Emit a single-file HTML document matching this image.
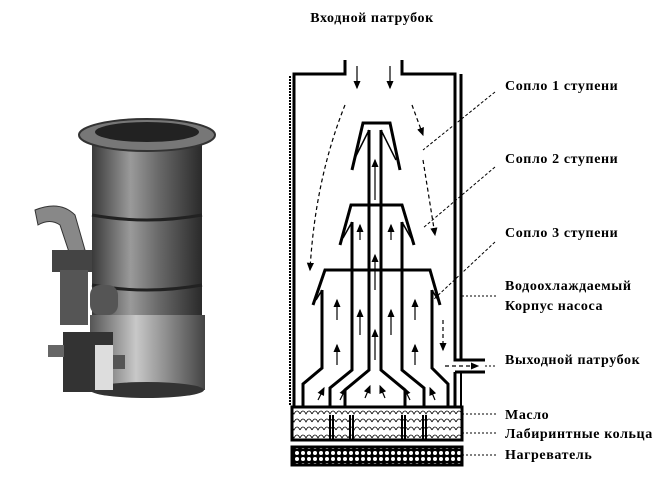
<!DOCTYPE html>
<html><head><meta charset="utf-8"><style>
html,body{margin:0;padding:0;background:#fff;}
svg{display:block}
text{font-family:"Liberation Serif",serif;font-weight:bold;font-size:14px;letter-spacing:0.6px;fill:#000}
</style></head><body>
<svg width="666" height="478" viewBox="0 0 666 478" xmlns="http://www.w3.org/2000/svg">
<defs>
<linearGradient id="cyl" x1="0" x2="1">
<stop offset="0" stop-color="#3a3a3a"/><stop offset="0.35" stop-color="#9a9a9a"/><stop offset="0.6" stop-color="#6a6a6a"/><stop offset="1" stop-color="#2a2a2a"/></linearGradient>
<linearGradient id="base" x1="0" x2="1">
<stop offset="0" stop-color="#555"/><stop offset="0.4" stop-color="#c8c8c8"/><stop offset="1" stop-color="#444"/></linearGradient>
<pattern id="wave" width="12" height="8" patternUnits="userSpaceOnUse">
<path d="M0 6 Q3 0 6 6 Q9 0 12 6" fill="none" stroke="#000" stroke-width="0.8"/></pattern>
<pattern id="heat" width="6" height="6" patternUnits="userSpaceOnUse">
<rect width="6" height="6" fill="#000"/><circle cx="3" cy="3" r="2" fill="#fff"/></pattern>
<marker id="ar" markerWidth="8" markerHeight="8" refX="6" refY="4" orient="auto"><path d="M0 1 L7 4 L0 7 Z" fill="#000"/></marker>
</defs>

<!-- photo -->
<g>
<rect x="92" y="135" width="110" height="195" fill="url(#cyl)"/>
<rect x="90" y="315" width="115" height="75" fill="url(#base)"/>
<ellipse cx="147" cy="390" rx="57" ry="8" fill="#333"/>
<ellipse cx="147" cy="135" rx="68" ry="16" fill="#777" stroke="#333" stroke-width="2"/>
<ellipse cx="147" cy="132" rx="52" ry="10" fill="#222"/>
<path d="M92 215 Q147 225 202 215" stroke="#222" stroke-width="3" fill="none"/>
<path d="M92 285 Q147 295 202 285" stroke="#222" stroke-width="3" fill="none"/>
<path d="M35 210 Q60 200 75 215 L85 250 L70 255 L60 225 Q50 218 38 225 Z" fill="#888" stroke="#333"/>
<rect x="52" y="250" width="40" height="22" fill="#444"/>
<rect x="60" y="270" width="28" height="55" fill="#555"/>
<rect x="90" y="285" width="28" height="30" rx="10" fill="#555"/>
<rect x="63" y="332" width="50" height="60" fill="#333"/>
<rect x="95" y="345" width="18" height="45" fill="#ddd"/>
<rect x="48" y="345" width="16" height="12" fill="#666"/>
<rect x="113" y="355" width="12" height="14" fill="#555"/>
</g>

<!-- title -->
<text x="372" y="22" text-anchor="middle">Входной патрубок</text>

<!-- body walls -->
<g fill="none" stroke="#000">
<path d="M345 60 V74 H294 V406" stroke-width="3"/>
<path d="M402 60 V74 H455 V360 H485" stroke-width="3"/>
<path d="M461 74 V360" stroke-width="3"/>
<path d="M290 76 V406" stroke-width="2" stroke-dasharray="2 1"/>
<path d="M455 372 H485 M455 372 V406" stroke-width="3"/>
<path d="M461 372 V406" stroke-width="2"/>
</g>

<g stroke="#000" stroke-width="1.2" marker-end="url(#ar)">
<line x1="357" y1="66" x2="357" y2="88"/>
<line x1="390" y1="66" x2="390" y2="88"/>
</g>

<g fill="none" stroke="#000" stroke-width="3">
<path d="M369 130 V370 L345 390 V406"/>
<path d="M381 130 V370 L405 390 V406"/>
<path d="M352 170 L363 123 H390 L400 170"/>
<path d="M369 130 L354 160 M381 130 L396 160" stroke-width="1.5"/>
<path d="M352 222 V370 L330 388 V406"/>
<path d="M402 222 V370 L424 388 V406"/>
<path d="M340 245 L351 205 H402 L414 245"/>
<path d="M352 222 L343 238 M402 222 L411 238" stroke-width="1.5"/>
<path d="M322 290 V368 L303 384 V406"/>
<path d="M432 290 V368 L448 384 V406"/>
<path d="M313 305 L325 270 H430 L440 305"/>
<path d="M322 290 L316 300 M432 290 L438 300" stroke-width="1.5"/>
</g>

<g stroke="#000" stroke-width="1.2" marker-end="url(#ar)">
<line x1="375" y1="200" x2="375" y2="160"/><line x1="375" y1="290" x2="375" y2="255"/><line x1="375" y1="360" x2="375" y2="330"/>
<line x1="360" y1="240" x2="360" y2="225"/><line x1="391" y1="240" x2="391" y2="225"/>
<line x1="360" y1="335" x2="360" y2="310"/><line x1="391" y1="335" x2="391" y2="310"/>
<line x1="337" y1="320" x2="337" y2="300"/><line x1="337" y1="365" x2="337" y2="345"/>
<line x1="415" y1="320" x2="415" y2="300"/><line x1="415" y1="365" x2="415" y2="345"/>
<line x1="318" y1="400" x2="324" y2="388"/><line x1="340" y1="400" x2="346" y2="388"/><line x1="365" y1="398" x2="370" y2="386"/>
<line x1="385" y1="398" x2="380" y2="386"/><line x1="410" y1="400" x2="404" y2="388"/><line x1="435" y1="400" x2="430" y2="388"/>
</g>

<g fill="none" stroke="#000" stroke-width="1.2" stroke-dasharray="4 3" marker-end="url(#ar)">
<path d="M345 105 Q315 180 310 270"/>
<path d="M412 105 L423 135"/>
<path d="M423 160 L435 235"/>
<path d="M443 320 V350"/>
<path d="M445 366 H478"/>
</g>

<rect x="292" y="407" width="170" height="33" fill="url(#wave)" stroke="#000" stroke-width="3"/>
<g stroke="#000" stroke-width="2">
<line x1="330" y1="415" x2="330" y2="440"/><line x1="333" y1="415" x2="333" y2="440"/>
<line x1="350" y1="415" x2="350" y2="440"/><line x1="353" y1="415" x2="353" y2="440"/>
<line x1="402" y1="415" x2="402" y2="440"/><line x1="405" y1="415" x2="405" y2="440"/>
<line x1="423" y1="415" x2="423" y2="440"/><line x1="426" y1="415" x2="426" y2="440"/>
</g>
<rect x="292" y="447" width="170" height="18" fill="url(#heat)" stroke="#000" stroke-width="3"/>

<g fill="none" stroke="#000" stroke-width="1">
<path d="M495 92 L423 150" stroke-dasharray="3 2"/>
<path d="M495 167 L423 228" stroke-dasharray="3 2"/>
<path d="M495 242 L433 300" stroke-dasharray="3 2"/>
<path d="M462 296 H497 M485 366 H497 M462 414 H497 M462 433 H497 M462 455 H497" stroke-dasharray="2 2"/>
</g>

<text x="505" y="90">Сопло 1 ступени</text>
<text x="505" y="163">Сопло 2 ступени</text>
<text x="505" y="237">Сопло 3 ступени</text>
<text x="505" y="290">Водоохлаждаемый</text>
<text x="505" y="310">Корпус насоса</text>
<text x="505" y="364">Выходной патрубок</text>
<text x="505" y="419">Масло</text>
<text x="505" y="438">Лабиринтные кольца</text>
<text x="505" y="459">Нагреватель</text>
</svg>
</body></html>
